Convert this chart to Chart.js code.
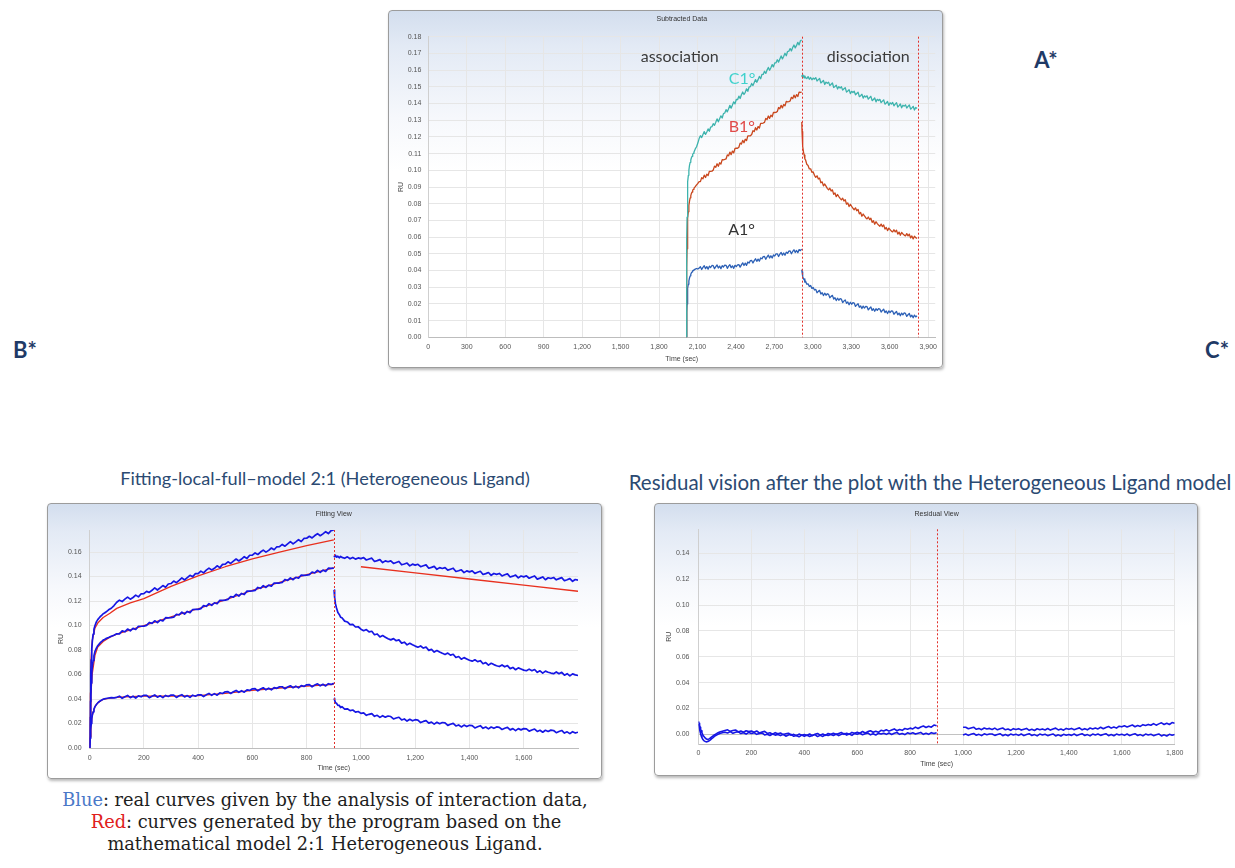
<!DOCTYPE html>
<html>
<head>
<meta charset="utf-8">
<title>Sensorgram – subtracted data, fitting and residuals</title>
<script src="https://cdn.jsdelivr.net/npm/chart.js@4.4.1/dist/chart.umd.min.js"></script>
<style>
  html, body { margin: 0; padding: 0; background: #ffffff; }
  body { width: 1235px; height: 868px; position: relative; overflow: hidden; font-family: 'Liberation Sans', Arial, sans-serif; }
  .panel {
    position: absolute; box-sizing: border-box;
    border: 1px solid #9c9c9c; border-radius: 4px;
    background: linear-gradient(to bottom, #d3deee 0%, #e3eaf5 10%, #f6f8fc 30%, #ffffff 45%);
    box-shadow: 1px 2px 3px rgba(0, 0, 0, 0.28);
  }
  .panel canvas { position: absolute; left: -1px; top: -1px; }
  .txt { position: absolute; white-space: nowrap; line-height: 1; transform: translate(-50%, -50%); }
  .tag { font-family: Lato, 'Open Sans', sans-serif; font-weight: 700; color: #1f3a66; font-size: 22px; }
  .head { font-family: Lato, 'Open Sans', sans-serif; color: #2b4a72; }
  .cap { font-family: 'DejaVu Serif', 'Liberation Serif', serif; color: #1e1e1e; }
</style>
</head>
<body>

<div class="panel" style="left:388px; top:10px; width:555px; height:358px;"><canvas id="chartA" width="555" height="358"></canvas></div>
<div class="panel" style="left:47px; top:503px; width:555px; height:276px;"><canvas id="chartB" width="555" height="276"></canvas></div>
<div class="panel" style="left:654px; top:503px; width:544px; height:273px;"><canvas id="chartC" width="544" height="273"></canvas></div>

<div class="txt tag" style="left:1046px; top:60px;">A*</div>
<div class="txt tag" style="left:25px; top:350px;">B*</div>
<div class="txt tag" style="left:1217px; top:350px;">C*</div>

<div class="txt head" id="headB" style="left:325px; top:478px;">Fitting-local-full–model 2:1 (Heterogeneous Ligand)</div>
<div class="txt head" id="headC" style="left:930px; top:482px;">Residual vision after the plot with the Heterogeneous Ligand model</div>

<div class="txt cap" id="cap1" style="left:325px; top:800px;"><span style="color:#4a78c8">Blue</span>: real curves given by the analysis of interaction data,</div>
<div class="txt cap" id="cap2" style="left:326px; top:822px;"><span style="color:#e0201c">Red</span>: curves generated by the program based on the</div>
<div class="txt cap" id="cap3" style="left:325px; top:844px;">mathematical model 2:1 Heterogeneous Ligand.</div>

<script>
// ---------------- Sensorgram data (RU vs. seconds from injection) ----------------
const assocTime = [0,2,4,6,8,10,13,16,20,25,30,35,40,45,50,55,
  60,70,80,90,100,110,120,130,140,150,160,170,180,190,200,210,220,230,240,250,260,270,280,290,
  300,310,320,330,340,350,360,370,380,390,400,410,420,430,440,450,460,470,480,490,500,510,520,530,540,
  550,560,570,580,590,600,610,620,630,640,650,660,670,680,690,700,710,720,730,740,750,760,770,780,790,
  800,810,820,830,840,850,860,870,880,890,900];

const dissocTime = [901,903,906,910,915,920,925,930,940,950,960,970,980,990,1000,
  1010,1020,1030,1040,1050,1060,1070,1080,1090,1100,1110,1120,1130,1140,1150,1160,1170,1180,1190,1200,
  1210,1220,1230,1240,1250,1260,1270,1280,1290,1300,1310,1320,1330,1340,1350,1360,1370,1380,1390,1400,
  1410,1420,1430,1440,1450,1460,1470,1480,1490,1500,1510,1520,1530,1540,1550,1560,1570,1580,1590,1600,
  1610,1620,1630,1640,1650,1660,1670,1680,1690,1700,1710,1720,1730,1740,1750,1760,1770,1780,1790,1800];

// highest concentration (C1)
const topAssoc = [0,.038,.059,.072,.081,.087,.093,.097,.100,.103,.1048,.1062,.1075,.1084,.1096,.1102,
  .1110,.1128,.1141,.1163,.1190,
  .1207,.1196,.1215,.1232,.1215,.1229,.1248,.1234,.1259,.1261,
  .1279,.1270,.1288,.1308,.1290,.1308,.1326,.1313,.1339,.1343,
  .1363,.1350,.1369,.1389,.1372,.1391,.1410,.1398,.1424,.1423,
  .1444,.1430,.1452,.1469,.1454,.1467,.1488,.1473,.1499,.1501,
  .1520,.1507,.1526,.1543,.1527,.1543,.1562,.1548,.1574,.1574,
  .1593,.1580,.1600,.1616,.1599,.1614,.1633,.1619,.1643,.1644,
  .1662,.1648,.1667,.1685,.1667,.1683,.1701,.1686,.1711,.1713,
  .1729,.1715,.1735,.1750,.1733,.1748,.1766,.1751,.1775,.1780];
const topDissoc = [.1570,.1562,.1574,.1558,.1566,.1553,.1565,.1556,.1549,.1561,.1545,.1556,.1542,.1552,.1546,
  .1555,.1535,.1543,.1550,.1523,.1530,.1538,.1514,.1528,.1521,
  .1528,.1507,.1515,.1523,.1496,.1502,.1510,.1487,.1501,.1493,
  .1500,.1480,.1488,.1495,.1468,.1475,.1483,.1459,.1473,.1466,
  .1473,.1452,.1460,.1468,.1441,.1447,.1455,.1432,.1446,.1438,
  .1446,.1426,.1435,.1443,.1417,.1424,.1433,.1410,.1425,.1418,
  .1425,.1405,.1414,.1422,.1396,.1403,.1412,.1389,.1404,.1397,
  .1406,.1386,.1396,.1405,.1379,.1387,.1397,.1374,.1390,.1384,
  .1392,.1373,.1383,.1391,.1366,.1374,.1383,.1361,.1376,.1370];

// middle concentration (B1)
const midAssoc = [0,.025,.042,.053,.061,.0665,.0715,.0752,.079,.0815,.0835,.0848,.0862,.0870,.0881,.0886,
  .0893,.0902,.0913,.0921,.0932,
  .0932,.0956,.0949,.0971,.0957,.0977,.0968,.0994,.0994,.0995,
  .1001,.1025,.1018,.1039,.1024,.1045,.1037,.1064,.1063,.1065,
  .1068,.1092,.1087,.1109,.1094,.1115,.1105,.1131,.1132,.1132,
  .1138,.1163,.1157,.1179,.1165,.1186,.1178,.1206,.1206,.1207,
  .1214,.1237,.1232,.1255,.1241,.1262,.1253,.1281,.1281,.1283,
  .1287,.1311,.1304,.1325,.1311,.1330,.1321,.1347,.1346,.1347,
  .1352,.1376,.1368,.1389,.1374,.1394,.1386,.1412,.1410,.1411,
  .1415,.1437,.1429,.1450,.1434,.1453,.1442,.1468,.1466,.1468];
const midDissoc = [.1290,.1232,.1178,.1143,.1106,.1091,.1068,.1063,.1036,.1029,.1008,.1009,.0988,.0990,.0970,
  .0958,.0967,.0948,.0953,.0925,.0931,.0907,.0918,.0905,.0892,
  .0883,.0893,.0876,.0883,.0856,.0864,.0842,.0855,.0843,.0832,
  .0823,.0833,.0816,.0824,.0797,.0805,.0783,.0796,.0784,.0773,
  .0764,.0775,.0758,.0765,.0739,.0747,.0725,.0738,.0727,.0716,
  .0709,.0720,.0705,.0713,.0688,.0698,.0677,.0692,.0681,.0672,
  .0665,.0678,.0663,.0673,.0648,.0658,.0639,.0654,.0645,.0636,
  .0631,.0644,.0631,.0641,.0618,.0630,.0611,.0628,.0619,.0612,
  .0607,.0621,.0607,.0618,.0595,.0607,.0589,.0605,.0597,.0592];

// lowest concentration (A1)
const lowAssoc = [0,.008,.015,.020,.024,.0268,.0295,.0318,.0338,.0355,.0368,.0378,.0386,.0392,.0398,.0401,
  .0404,.0408,.0412,.0409,.0414,
  .0423,.0406,.0419,.0429,.0411,.0423,.0408,.0426,.0418,.0430,
  .0429,.0411,.0423,.0433,.0415,.0426,.0411,.0429,.0421,.0432,
  .0431,.0413,.0426,.0435,.0417,.0428,.0413,.0431,.0423,.0434,
  .0435,.0420,.0434,.0446,.0430,.0444,.0431,.0451,.0445,.0459,
  .0460,.0445,.0459,.0470,.0455,.0468,.0456,.0475,.0470,.0483,
  .0484,.0467,.0481,.0492,.0475,.0488,.0475,.0493,.0487,.0500,
  .0500,.0484,.0498,.0508,.0492,.0505,.0491,.0510,.0503,.0516,
  .0517,.0500,.0514,.0524,.0508,.0520,.0507,.0525,.0519,.0528];
const lowDissoc = [.0405,.0392,.0370,.0365,.0348,.0349,.0330,.0337,.0318,.0320,.0305,.0310,.0293,.0298,.0283,
  .0287,.0267,.0275,.0281,.0259,.0267,.0250,.0264,.0252,.0261,
  .0257,.0237,.0245,.0251,.0229,.0237,.0220,.0234,.0222,.0231,
  .0228,.0208,.0217,.0224,.0203,.0211,.0195,.0210,.0198,.0208,
  .0205,.0185,.0194,.0201,.0180,.0188,.0172,.0187,.0175,.0185,
  .0183,.0164,.0174,.0182,.0161,.0171,.0156,.0171,.0161,.0172,
  .0169,.0151,.0161,.0168,.0148,.0158,.0142,.0158,.0148,.0158,
  .0156,.0138,.0147,.0155,.0135,.0145,.0129,.0145,.0135,.0146,
  .0143,.0125,.0135,.0143,.0122,.0132,.0117,.0133,.0122,.0129];

// 2:1 heterogeneous ligand model curves
const fitTime = [0,2,5,10,20,30,50,75,100,150,200,300,400,500,600,700,800,900];
const fitTopAssoc = [0,.045,.072,.088,.098,.102,.1065,.110,.1140,.1185,.1220,.1320,.1405,.1480,.1545,.1600,.1652,.1700];
const fitMidAssoc = [0,.025,.045,.061,.076,.0825,.0870,.0905,.0930,.0965,.1000,.1070,.1137,.1210,.1288,.1352,.1416,.1471];
const fitLowAssoc = [0,.009,.017,.027,.034,.0368,.0398,.0408,.0414,.0420,.0423,.0423,.0427,.0446,.0470,.0490,.0505,.0520];
const fitDissocTime = [1000,1200,1400,1600,1800];
const fitTopDissoc = [.1480,.1430,.1380,.1330,.1280];

// residuals (measured − model)
const resUpperAssoc = [.0100,.0085,.0070,.0055,.0040,.0028,.0012,-.0002,-.0015,-.0028,-.0036,-.0040,-.0035,-.0028,-.0020,-.0012,
  -.0005,.0008,.0018,.0024,.0030,
  .0035,.0023,.0029,.0034,.0019,.0026,.0016,.0028,.0021,.0026,
  .0016,.0026,.0011,.0018,.0023,.0007,.0012,.0001,.0013,.0004,
  .0010,-.0002,.0004,.0009,-.0007,.0000,-.0010,.0002,-.0007,-.0002,
  -.0009,.0003,-.0010,.0000,.0007,-.0006,.0002,-.0008,.0007,.0001,
  .0009,-.0001,.0007,.0014,.0000,.0009,.0001,.0015,.0009,.0016,
  .0009,.0022,.0010,.0021,.0028,.0016,.0024,.0016,.0031,.0026,
  .0035,.0025,.0034,.0042,.0028,.0038,.0031,.0045,.0040,.0048,
  .0042,.0056,.0045,.0057,.0065,.0053,.0063,.0055,.0072,.0067];
const resLowerAssoc = [.0080,.0060,.0040,.0022,.0005,-.0010,-.0025,-.0038,-.0048,-.0055,-.0058,-.0056,-.0050,-.0042,-.0033,-.0025,
  -.0016,-.0004,.0006,.0012,.0016,
  .0011,.0021,.0008,.0016,.0021,.0006,.0012,.0002,.0015,.0007,
  .0013,.0000,.0006,.0011,-.0005,.0001,-.0009,.0003,-.0006,-.0001,
  -.0010,.0000,-.0014,-.0005,.0000,-.0015,-.0009,-.0019,-.0006,-.0014,
  -.0006,-.0017,-.0009,-.0002,-.0017,-.0008,-.0016,-.0003,-.0009,-.0002,
  -.0009,.0003,-.0010,.0000,.0007,-.0006,.0002,-.0008,.0007,.0001,
  .0008,-.0003,.0004,.0011,-.0004,.0004,-.0005,.0008,.0002,.0008,
  .0000,.0011,-.0001,.0008,.0014,.0000,.0007,-.0002,.0012,.0005,
  .0012,.0002,.0009,.0015,.0000,.0009,.0000,.0013,.0006,.0013];
const resUpperDissoc = [.0055,.0055,.0043,.0049,.0055,.0039,.0046,.0036,.0049,.0041,.0046,
  .0038,.0048,.0035,.0043,.0049,.0035,.0041,.0031,.0044,.0037,
  .0044,.0033,.0040,.0046,.0031,.0039,.0030,.0043,.0036,.0042,
  .0034,.0045,.0033,.0042,.0048,.0034,.0041,.0032,.0046,.0039,
  .0046,.0036,.0043,.0050,.0035,.0044,.0035,.0049,.0042,.0049,
  .0042,.0055,.0043,.0053,.0061,.0048,.0057,.0048,.0063,.0058,
  .0066,.0057,.0065,.0072,.0059,.0068,.0061,.0075,.0069,.0077,
  .0070,.0083,.0071,.0081,.0089,.0076,.0085,.0076,.0091,.0086];
const resLowerDissoc = [-.0005,.0002,-.0008,.0001,.0007,-.0007,.0000,-.0010,.0004,-.0003,.0003,
  .0003,-.0008,-.0001,.0005,-.0010,-.0002,-.0011,.0002,-.0005,.0001,
  -.0008,.0003,-.0010,-.0001,.0005,-.0009,-.0002,-.0012,.0002,-.0005,
  .0001,-.0010,-.0003,.0003,-.0012,-.0004,-.0013,.0000,-.0007,-.0001,
  -.0008,.0003,-.0010,-.0001,.0005,-.0009,-.0002,-.0012,.0002,-.0005,
  .0003,-.0008,-.0001,.0005,-.0010,-.0002,-.0011,.0002,-.0005,.0001,
  -.0008,.0003,-.0010,-.0001,.0005,-.0009,-.0002,-.0012,.0002,-.0005,
  .0001,-.0010,-.0003,.0003,-.0012,-.0004,-.0013,.0000,-.0007,-.0001];

// run timeline of the raw sensorgram
const injectionStart = 2013;
const phaseMarksRun = [2915, 3822];
const phaseMarksFit = [900];

// axis ticks
const runTicks = [0,300,600,900,1200,1500,1800,2100,2400,2700,3000,3300,3600,3900];
const runRuTicks = [0,.01,.02,.03,.04,.05,.06,.07,.08,.09,.10,.11,.12,.13,.14,.15,.16,.17,.18];
const fitTicks = [0,200,400,600,800,1000,1200,1400,1600];
const fitRuTicks = [0,.02,.04,.06,.08,.10,.12,.14,.16];
const resTicks = [0,200,400,600,800,1000,1200,1400,1600,1800];
const resRuTicks = [0,.02,.04,.06,.08,.10,.12,.14];

// ---------------- helpers ----------------
const SMALL = { size: 7, family: "'Liberation Sans', Arial, sans-serif", lineHeight: 1.2 };
const pts = (T, V, shift = 0) => T.map((t, i) => ({ x: t + shift, y: V[i] }));
const trace = (data, color, width, order = 1) => ({
  data, borderColor: color, borderWidth: width, pointRadius: 0, fill: false,
  tension: 0, order, borderJoinStyle: 'round'
});

const panelDecor = {
  id: 'panelDecor',
  afterDatasetsDraw(chart, args, o) {
    const { ctx, chartArea: a, scales: { x, y } } = chart;
    ctx.save();
    ctx.strokeStyle = '#e2302a'; ctx.lineWidth = 1; ctx.setLineDash([2, 2]);
    (o.marks || []).forEach(t => {
      const px = Math.round(x.getPixelForValue(t)) + 0.5;
      ctx.beginPath(); ctx.moveTo(px, a.top); ctx.lineTo(px, a.bottom); ctx.stroke();
    });
    ctx.setLineDash([]);
    (o.notes || []).forEach(n => {
      ctx.font = n.font; ctx.fillStyle = n.color;
      ctx.textAlign = n.align || 'left'; ctx.textBaseline = 'middle';
      ctx.fillText(n.text, x.getPixelForValue(n.x), y.getPixelForValue(n.y));
    });
    ctx.font = "7px 'Liberation Sans', Arial, sans-serif";
    ctx.fillStyle = '#333'; ctx.textAlign = 'center'; ctx.textBaseline = 'middle';
    ctx.fillText(o.title, (a.left + a.right) / 2, o.titleY);
    ctx.restore();
  }
};

function makeChart(id, cfg) {
  const { W, H, box } = cfg;
  const gridColor = cfg.zeroLine
    ? (c => (c.tick && c.tick.value === 0 ? '#c2c2c2' : '#e6e6e6'))
    : '#e6e6e6';
  return new Chart(document.getElementById(id), {
    type: 'line',
    data: { datasets: cfg.datasets },
    plugins: [panelDecor],
    options: {
      responsive: false, animation: false, events: [],
      layout: { padding: { left: 0, top: box.top, right: W - box.right, bottom: 0 } },
      plugins: {
        legend: { display: false }, tooltip: { enabled: false },
        panelDecor: { marks: cfg.marks, notes: cfg.notes || [], title: cfg.title, titleY: cfg.titleY }
      },
      scales: {
        x: {
          type: 'linear', min: cfg.xmin, max: cfg.xmax,
          afterBuildTicks: s => { s.ticks = cfg.xTicks.map(v => ({ value: v })); },
          afterFit: s => { s.height = H - box.bottom; },
          grid: { color: '#e6e6e6', drawTicks: false },
          border: { color: '#bdbdbd' },
          ticks: { padding: cfg.xPad, font: SMALL, color: '#555', maxRotation: 0, autoSkip: false,
                   callback: v => Number(v).toLocaleString('en-US') },
          title: { display: true, text: 'Time (sec)', font: SMALL, color: '#444',
                   padding: { top: 0, bottom: cfg.xTitlePad } }
        },
        y: {
          min: cfg.ymin, max: cfg.ymax,
          afterBuildTicks: s => { s.ticks = cfg.yTicks.map(v => ({ value: v })); },
          afterFit: s => { s.width = box.left; },
          grid: { color: gridColor, drawTicks: false },
          border: { color: '#cfcfcf' },
          ticks: { padding: cfg.yPad, font: SMALL, color: '#555', callback: v => Number(v).toFixed(2) },
          title: { display: true, text: 'RU', font: SMALL, color: '#444',
                   padding: { top: cfg.yTitlePad, bottom: 0 } }
        }
      }
    }
  });
}

// ---------------- panel A: subtracted data over the whole run ----------------
const teal = '#3db3ad', rust = '#c9471d', cobalt = '#2c60b6';
const noteFont = "16px Lato, 'Open Sans', sans-serif";
makeChart('chartA', {
  W: 555, H: 358, box: { left: 40.3, right: 549, top: 26.7, bottom: 327.3 },
  xmin: 0, xmax: 3955, ymin: 0, ymax: 0.18, xTicks: runTicks, yTicks: runRuTicks,
  xPad: 6, yPad: 7, xTitlePad: 4.5, yTitlePad: 8.4,
  title: 'Subtracted Data', titleY: 9, marks: phaseMarksRun,
  notes: [
    { text: 'association', x: 1962, y: 0.168, color: '#3a3a3a', font: noteFont, align: 'center' },
    { text: 'dissociation', x: 3433, y: 0.168, color: '#3a3a3a', font: noteFont, align: 'center' },
    { text: 'C1°', x: 2344, y: 0.155, color: '#3fd2cc', font: noteFont },
    { text: 'B1°', x: 2344, y: 0.1263, color: '#e04a48', font: noteFont },
    { text: 'A1°', x: 2340, y: 0.0644, color: '#333333', font: noteFont }
  ],
  datasets: [
    trace(pts(assocTime, topAssoc, injectionStart), teal, 1.3),
    trace(pts(dissocTime, topDissoc, injectionStart), teal, 1.3),
    trace(pts(assocTime, midAssoc, injectionStart), rust, 1.3),
    trace(pts(dissocTime, midDissoc, injectionStart), rust, 1.3),
    trace(pts(assocTime, lowAssoc, injectionStart), cobalt, 1.3),
    trace(pts(dissocTime, lowDissoc, injectionStart), cobalt, 1.3)
  ]
});

// ---------------- panel B: measured curves with the model ----------------
const blue = '#1616e4', red = '#e8301e';
makeChart('chartB', {
  W: 555, H: 276, box: { left: 42.6, right: 531, top: 27, bottom: 245 },
  xmin: 0, xmax: 1800, ymin: 0, ymax: 0.178, xTicks: fitTicks, yTicks: fitRuTicks,
  xPad: 6, yPad: 8, xTitlePad: 6.5, yTitlePad: 9.8,
  title: 'Fitting View', titleY: 11, marks: phaseMarksFit,
  datasets: [
    trace(pts(assocTime, topAssoc), blue, 1.7, 1),
    trace(pts(dissocTime, topDissoc), blue, 1.7, 1),
    trace(pts(assocTime, midAssoc), blue, 1.7, 1),
    trace(pts(dissocTime, midDissoc), blue, 1.7, 1),
    trace(pts(assocTime, lowAssoc), blue, 1.7, 1),
    trace(pts(dissocTime, lowDissoc), blue, 1.7, 1),
    trace(pts(fitTime, fitTopAssoc), red, 1.3, 2),
    trace(pts(fitTime, fitMidAssoc), red, 1.3, 2),
    trace(pts(fitTime, fitLowAssoc), red, 1.3, 2),
    trace(pts(fitDissocTime, fitTopDissoc), red, 1.3, 2)
  ]
});

// ---------------- panel C: residuals ----------------
const resDissocTime = dissocTime.filter(t => t >= 1000);
makeChart('chartC', {
  W: 544, H: 273, box: { left: 44.5, right: 520.7, top: 26.3, bottom: 241.3 },
  xmin: 0, xmax: 1800, ymin: -0.0077, ymax: 0.1586, xTicks: resTicks, yTicks: resRuTicks,
  xPad: 5, yPad: 9, xTitlePad: 7.5, yTitlePad: 10.8, zeroLine: true,
  title: 'Residual View', titleY: 11, marks: phaseMarksFit,
  datasets: [
    trace(pts(assocTime, resUpperAssoc), blue, 1.6),
    trace(pts(assocTime, resLowerAssoc), blue, 1.6),
    trace(pts(resDissocTime, resUpperDissoc), blue, 1.6),
    trace(pts(resDissocTime, resLowerDissoc), blue, 1.6)
  ]
});

// ---------------- text sizing ----------------
const meas = document.createElement('canvas').getContext('2d');
function sizeFor(el, family, weight, width) {
  meas.font = `${weight} 100px ${family}`;
  return 100 * width / meas.measureText(el.textContent).width;
}
const headFam = "Lato, 'Open Sans', sans-serif";
const hB = document.getElementById('headB');
hB.style.fontSize = sizeFor(hB, headFam, 400, 410) + 'px';
const hC = document.getElementById('headC');
hC.style.fontSize = sizeFor(hC, headFam, 400, 604) + 'px';
hC.style.left = (628 + 302) + 'px';

const capFam = "'DejaVu Serif', 'Liberation Serif', serif";
const c1 = document.getElementById('cap1');
const capSize = sizeFor(c1, capFam, 400, 526);
['cap1', 'cap2', 'cap3'].forEach(id => { document.getElementById(id).style.fontSize = capSize + 'px'; });
</script>
</body>
</html>
